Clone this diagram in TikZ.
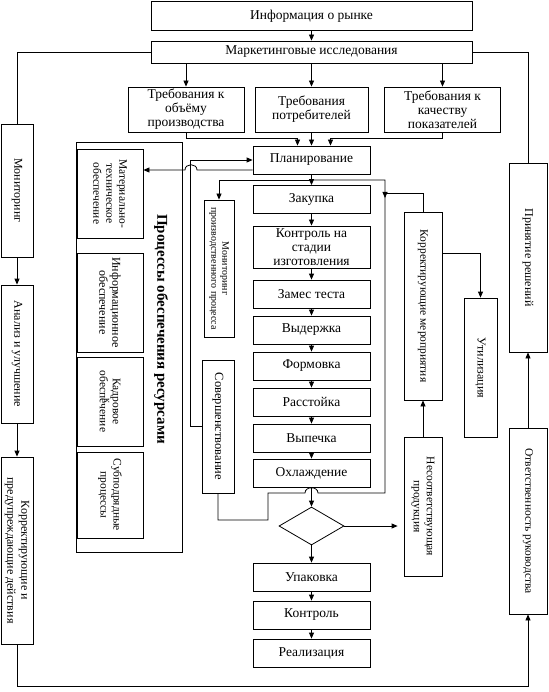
\documentclass[tikz,border=0pt]{standalone}
\usepackage{fontspec}
\setmainfont{Liberation Serif}
\usetikzlibrary{shapes.geometric,arrows.meta}

\begin{document}
\begin{tikzpicture}[x=1pt,y=-1pt,line width=0.8pt,>={Triangle[length=6pt,width=5pt]}]
\tikzstyle{stagebox}=[draw,rectangle,minimum width=117pt,minimum height=28pt,inner sep=0pt,align=center,font=\fontsize{13.5}{14}\selectfont]
\tikzstyle{sidebox}=[draw,rectangle,inner sep=0pt]
\tikzstyle{rottext}=[rotate=-90,align=center,inner sep=0pt,font=\fontsize{12}{14}\selectfont]
\useasboundingbox (0,0) rectangle (548,692);
% market and requirements
\node[stagebox,minimum width=321pt,minimum height=29pt] (info) at (311.5,16) {Информация о рынке};
\node[stagebox,minimum width=321pt,minimum height=22pt] (market) at (311.5,52) {Маркетинговые исследования};
\node[stagebox,minimum width=116pt,minimum height=45pt] (reqvol) at (186,109.5) {Требования к\\объёму\\производства};
\node[stagebox,minimum width=113pt,minimum height=45pt] (reqcons) at (311.5,109.5) {Требования\\потребителей};
\node[stagebox,minimum width=116pt,minimum height=45pt] (reqqual) at (442.5,109.5) {Требования к\\качеству\\показателей};
% production line
\node[stagebox] (plan) at (311.5,160) {Планирование};
\node[stagebox] (purch) at (311.5,199.5) {Закупка};
\node[stagebox,minimum height=42pt] (inproc) at (311.5,247) {Контроль на\\стадии\\изготовления};
\node[stagebox] (mix) at (311.5,294) {Замес теста};
\node[stagebox] (rest) at (311.5,330) {Выдержка};
\node[stagebox] (mould) at (311.5,366) {Формовка};
\node[stagebox] (proof) at (311.5,402) {Расстойка};
\node[stagebox] (bake) at (311.5,438) {Выпечка};
\node[stagebox] (cool) at (311.5,473) {Охлаждение};
\node[draw,diamond,minimum width=65pt,minimum height=38pt,inner sep=0pt] (check) at (311.5,526) {};
\node[stagebox] (pack) at (311.5,577) {Упаковка};
\node[stagebox] (finalchk) at (311.5,615) {Контроль};
\node[stagebox] (sale) at (311.5,653) {Реализация};
% left column
\node[sidebox,minimum width=32pt,minimum height=133pt,label={[rottext]center:Мониторинг}] (monit) at (17,190.5) {};
\node[sidebox,minimum width=32pt,minimum height=138pt,label={[rottext]center:Анализ и улучшение}] (analysis) at (17,354) {};
\node[sidebox,minimum width=32pt,minimum height=187pt,label={[rottext]center:{Корректирующие и\\предупреждающие действия}}] (corrprev) at (17,550.5) {};
% resources
\node[sidebox,minimum width=106pt,minimum height=410pt] (resources) at (129,347) {};
\node[rottext,font=\fontsize{15}{17}\selectfont\bfseries] (restitle) at (161,329) {Процессы обеспечения ресурсами};
\node[sidebox,minimum width=66pt,minimum height=89pt,label={[rottext,font=\fontsize{11.5}{13}\selectfont]center:{Материально-\\техническое\\обеспечение}}] (material) at (110,193.5) {};
\node[sidebox,minimum width=66pt,minimum height=99pt,label={[rottext,font=\fontsize{12}{13}\selectfont]center:{Информационное\\обеспечение}}] (infosup) at (110,302.5) {};
\node[sidebox,minimum width=66pt,minimum height=89pt,label={[rottext,font=\fontsize{11.5}{13}\selectfont]center:{Кадровое\\обеспечение}}] (staff) at (110,401.5) {};
\node[rottext,font=\fontsize{10}{12}\selectfont] (staffk) at (107,401) {к};
\node[sidebox,minimum width=66pt,minimum height=86pt,label={[rottext,font=\fontsize{11.5}{13}\selectfont]center:{Субподрядные\\процессы}}] (subcon) at (110,495) {};
% monitoring and improvement
\node[sidebox,minimum width=30pt,minimum height=137pt,label={[rottext,font=\fontsize{10}{11}\selectfont]center:{Мониторинг\\производственного процесса}}] (procmon) at (219,268.5) {};
\node[sidebox,minimum width=32pt,minimum height=133pt,label={[rottext,font=\fontsize{12.5}{14}\selectfont]center:Совершенствование}] (improve) at (218,426.5) {};
% right side
\node[sidebox,minimum width=38pt,minimum height=188pt,label={[rottext,font=\fontsize{11.5}{13}\selectfont]center:Корректирующие мероприятия}] (corract) at (423,306) {};
\node[sidebox,minimum width=38pt,minimum height=139pt,label={[rottext,font=\fontsize{11.5}{13}\selectfont]center:{Несоответствующая\\продукция}}] (nonconf) at (423,506.5) {};
\node[sidebox,minimum width=33pt,minimum height=139pt,label={[rottext]center:Утилизация}] (disposal) at (480.5,367.5) {};
\node[sidebox,minimum width=38pt,minimum height=189pt,label={[rottext]center:Принятие решений}] (decision) at (528,257.5) {};
\node[sidebox,minimum width=38pt,minimum height=186pt,label={[rottext,font=\fontsize{11.5}{13}\selectfont]center:Ответственность руководства}] (mgmtresp) at (528,521) {};
\coordinate (split) at (311.5,180);
\coordinate (fork) at (385,180);
\coordinate (forkend) at (385,493);
% connectors
\draw[->] (info) -- (market);
\draw (market.west) -| (monit.north);
\draw (market.east) -| (decision.north);
\draw[->] (market.south -| reqvol.north) -- (reqvol.north);
\draw[->] (market) -- (reqcons);
\draw[->] (market.south -| reqqual.north) -- (reqqual.north);
\draw[->] (reqvol.south) -- ++(0,6) -| ([xshift=-14pt]plan.north);
\draw[->] (reqcons) -- (plan);
\draw[->] (reqqual.south) -- ++(0,6) -| ([xshift=19pt]plan.north);
\draw[->] (plan) -- (purch);
\draw[->] (purch) -- (inproc);
\draw[->] (inproc) -- (mix);
\draw[->] (mix) -- (rest);
\draw[->] (rest) -- (mould);
\draw[->] (mould) -- (proof);
\draw[->] (proof) -- (bake);
\draw[->] (bake) -- (cool);
\draw[->] (cool) -- (check);
\draw[->] (check) -- (pack);
\draw[->] (pack) -- (finalchk);
\draw[->] (finalchk) -- (sale);
\draw[->] (split) -| (procmon.north);
\draw (split) -- (fork) -- (forkend) -- (318,493) .. controls (318,486) and (305,486) .. (305,493) -- (268,493) -- (268,520) -| (improve.south);
\draw[->] (corract.north) |- (385,193) -- (385,198);
\draw[->] (improve.west) -- ++(-11,0) |- (plan.west);
\draw[->] ([yshift=-10pt]plan.west) -- (197,170) .. controls (197,163) and (185,163) .. (185,170) -- (material.east |- 0,170);
\draw[->,shorten >=6pt] (check.east) -- (nonconf.west |- check);
\draw[->] (nonconf) -- (corract);
\draw[->] (corract.north east) ++(0,42) -| (disposal.north);
\draw[->] (mgmtresp) -- (decision);
\draw[->] (monit) -- (analysis);
\draw[->] (analysis) -- (corrprev);
\draw[->] (corrprev.south) -- ++(0,42) -| (mgmtresp.south);
\end{tikzpicture}
\end{document}
